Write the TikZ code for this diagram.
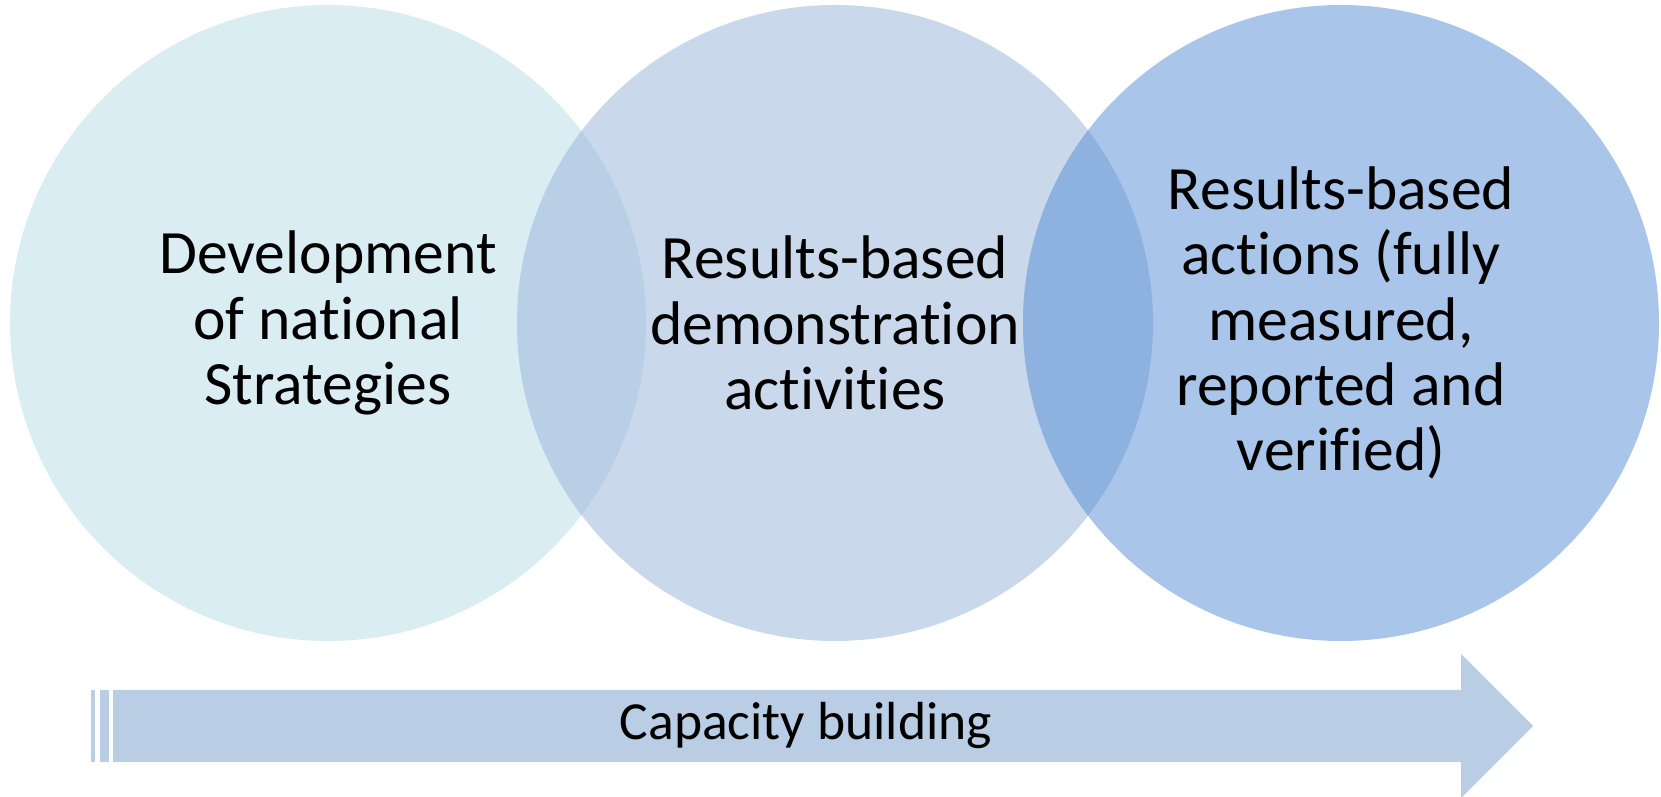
\documentclass[tikz,border=0pt]{standalone}
\usepackage{fontspec}
\setmainfont{Carlito}[Ligatures=NoCommon]
\usetikzlibrary{shapes,arrows,positioning,calc}

\definecolor{stageA}{HTML}{DAEDF3}
\definecolor{stageB}{HTML}{C9D9EB}
\definecolor{stageC}{HTML}{A9C5EA}
\definecolor{overlapAB}{HTML}{B8CFE5}
\definecolor{overlapBC}{HTML}{8EB2E0}
\definecolor{bandblue}{HTML}{B9CDE5}

\begin{document}
\begin{tikzpicture}[x=0.5pt, y=0.5pt]
\tikzstyle{stage} = [circle, minimum size=318pt, inner sep=0pt, outer sep=0pt]
\tikzstyle{stagetext} = [align=center, inner sep=0pt, font=\fontsize{30.8}{32.7}\selectfont]
\tikzstyle{bandtext} = [inner sep=0pt, font=\fontsize{26.8}{32}\selectfont]
\tikzstyle{band} = [fill=bandblue]

\useasboundingbox (0,0) rectangle (1661,797);

% circles
\node [stage, fill=stageA] (dev) at (328,474) {};
\node [stage, fill=stageB] (demo) at (835,474) {};
\node [stage, fill=stageC] (act) at (1341,474) {};

% overlaps
\begin{scope}
\clip (dev.center) circle (318);
\fill [overlapAB] (demo.center) circle (318);
\end{scope}
\begin{scope}
\clip (demo.center) circle (318);
\fill [overlapBC] (act.center) circle (318);
\end{scope}

\node [stagetext] (devtext) at (dev.center) {Development\\of national\\Strategies};
\node [stagetext] (demotext) at (demo.center) {Results-based\\demonstration\\activities};
\node [stagetext] (acttext) at (act.center) {Results-based\\actions (fully\\measured,\\reported and\\verified)};

% capacity arrow
\fill [band] (113,35) -- (1461,35) -- (1461,-1) -- (1533,71) -- (1461,143) -- (1461,107) -- (113,107) -- cycle;
\fill [band] (91,35) rectangle (95,107);
\fill [band] (100,35) rectangle (109,107);
\node [bandtext] (capacity) at (806,71) {Capacity building};
\end{tikzpicture}
\end{document}
